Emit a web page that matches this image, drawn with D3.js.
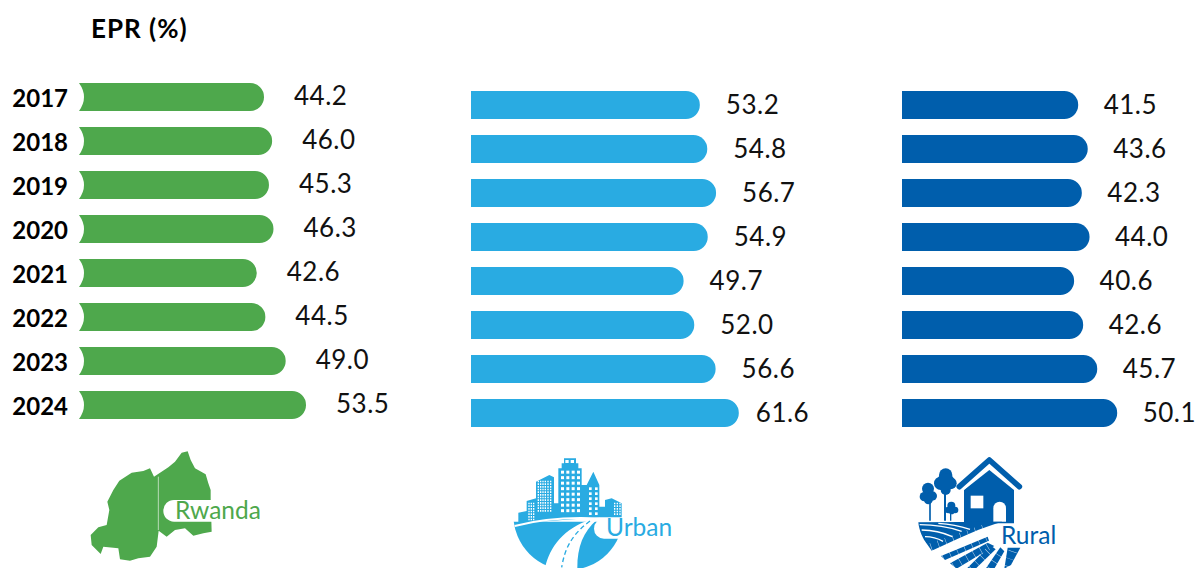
<!DOCTYPE html>
<html><head><meta charset="utf-8">
<script src="https://cdnjs.cloudflare.com/ajax/libs/d3/7.8.5/d3.min.js"></script>
<style>html,body{margin:0;padding:0;background:#fff}svg{display:block}text{font-family:Lato,"Open Sans",sans-serif}</style>
</head><body><div id="c"></div>
<script>
const years=["2017","2018","2019","2020","2021","2022","2023","2024"];
const rwanda=[44.2,46.0,45.3,46.3,42.6,44.5,49.0,53.5];
const urban=[53.2,54.8,56.7,54.9,49.7,52.0,56.6,61.6];
const rural=[41.5,43.6,42.3,44.0,40.6,42.6,45.7,50.1];
const panels=[
 {vals:rwanda,color:"#4ea84c",r0:64.4,slope:4.516,x0:79,top:75,off:30,dy:-1,notch:true},
 {vals:urban,color:"#29abe2",r0:453,slope:4.64,x0:471,top:83,off:26,dy:0},
 {vals:rural,color:"#005eac",r0:890,slope:4.535,x0:902,top:83,off:25.5,dy:0}
];
const W=1197,H=568;
const svg=d3.select("#c").append("svg").attr("width",W).attr("height",H);
svg.append("text").attr("x",91).attr("y",38).attr("font-size",26).attr("letter-spacing",1).attr("font-weight",700).text("EPR (%)");
panels.forEach((p,pi)=>{
 const x=d3.scaleLinear().domain([0,70]).range([p.r0,p.r0+70*p.slope]);
 const y=d3.scaleBand().domain(years).range([p.top,p.top+352]).paddingInner(16/44).paddingOuter(8/44);
 const h=y.bandwidth(),r=h/2;
 const g=svg.append("g");
 g.selectAll("path").data(p.vals).join("path").attr("fill",p.color).attr("d",(v,i)=>{
   const y0=y(years[i]),xe=x(v);
   return `M${p.x0},${y0}H${xe-r}A${r},${r} 0 0 1 ${xe-r},${y0+h}H${p.x0}`+(p.notch?`Q${p.x0+10},${y0+h/2} ${p.x0},${y0}Z`:"Z");
 });
 g.selectAll("text").data(p.vals).join("text").attr("font-size",26).attr("letter-spacing",0.5).attr("fill","#111")
  .attr("x",(v,i)=>x(v)+(pi==1&&i==7?17:p.off)).attr("y",(v,i)=>y(years[i])+h/2+p.dy).attr("dy","0.35em").text(v=>v.toFixed(1));
 if(pi==0){
  svg.append("g").selectAll("text").data(years).join("text").attr("font-size",24).attr("font-weight",700)
   .attr("text-anchor","end").attr("x",68).attr("y",d=>y(d)+h/2+1.5).attr("dy","0.35em").text(d=>d);
 }
});
// ---- icons (authored at 3x in local crop coordinates)
function icon(ox,oy){return svg.append("g").attr("transform",`translate(${ox},${oy}) scale(${1/3})`);}
// Rwanda
{const c="#4ea84c",g=icon(60,440);
 g.append("path").attr("fill",c).attr("d","M365,38L383,34L392,60L405,85L437,103L445,130L452,150L452,175L455,275L430,280L400,287L375,265L345,270L320,290L296,272L290,320L270,350L235,355L210,362L180,358L175,325L130,320L122,342L95,315L92,285L115,262L140,255L148,210L142,185L160,150L178,122L215,98L250,93L270,85L282,110L325,82L345,65Z");
 g.append("line").attr("x1",295).attr("x2",295).attr("y1",110).attr("y2",270).attr("stroke","#fff").attr("stroke-opacity",.6).attr("stroke-width",3);
 g.append("rect").attr("x",310).attr("y",180).attr("width",320).attr("height",65).attr("rx",32).attr("fill","#fff");
 svg.append("text").attr("x",175).attr("y",519).attr("font-size",24.5).attr("fill",c).text("Rwanda");
}
// Urban
{const c="#29abe2",g=icon(490,440);
 const poly=(d,f=c)=>g.append("path").attr("d",d).attr("fill",f);
 g.append("clipPath").attr("id","uc").append("rect").attr("x",0).attr("y",245).attr("width",600).attr("height",200);
 g.append("circle").attr("cx",235).attr("cy",225).attr("r",165).attr("fill",c).attr("clip-path","url(#uc)");
 poly("M85,218L110,213V183L138,175V125L178,105L192,112V190H205V85H215V70H222V55H258V70H265V85H275V135H290L310,95L328,135V200H345V180L365,175L395,190V232H330L85,250Z");
 const wins=(xs,ys,w,h)=>xs.forEach(a=>ys.forEach(b=>poly(`M${a},${b}h${w}v${h}h${-w}Z`,"#fff")));
 wins([226,242],[60],10,9);
 wins([213,229,245,261],d3.range(92,215,16.5),9,9);
 wins([297,315],d3.range(142,225,15),8,8);
 wins([143,150,157,164,172,180],d3.range(122,215,8),4,5);
 wins([115,122,129],d3.range(188,238,8),4,5);
 wins([372,380,388],d3.range(188,228,8),4,5);
 g.append("path").attr("d","M74,258Q190,228 330,236").attr("fill","none").attr("stroke","#fff").attr("stroke-width",6);
 poly("M305,238C220,265 180,320 165,384H262C262,320 280,275 320,240Z","#fff");
 g.append("path").attr("d","M300,243C250,280 225,320 215,382").attr("fill","none").attr("stroke",c).attr("stroke-width",4).attr("stroke-dasharray","14 9");
 g.append("rect").attr("x",312).attr("y",236).attr("width",300).attr("height",60).attr("rx",30).attr("fill","#fff");
 svg.append("text").attr("x",606).attr("y",536).attr("font-size",24.5).attr("fill",c).text("Urban");
}
// Rural
{const c="#005eac",g=icon(900,440);
 const poly=(d,f=c)=>g.append("path").attr("d",d).attr("fill",f);
 [[90,185,242,5],[135,150,242,6],[152,215,242,4]].forEach(([tx,a,b,w])=>g.append("line").attr("x1",tx).attr("x2",tx).attr("y1",a).attr("y2",b).attr("stroke",c).attr("stroke-width",w));
 [[84,146,18],[73,170,14],[97,168,14],[85,180,13],[137,105,20],[122,130,20],[152,130,18],[137,150,15],[137,125,26],[154,197,12],[145,210,10],[165,210,10],[155,215,8]]
  .forEach(([a,b,r])=>g.append("circle").attr("cx",a).attr("cy",b).attr("r",r).attr("fill",c));
 poly("M192,150L268,90L342,150V250H192Z");
 g.append("path").attr("d","M178,140L268,60L358,140").attr("fill","none").attr("stroke",c).attr("stroke-width",17).attr("stroke-linecap","round").attr("stroke-linejoin","round");
 g.append("path").attr("d","M188,150L268,82L348,150").attr("fill","none").attr("stroke","#fff").attr("stroke-width",4);
 poly("M212,167H250V205H212Z","#fff");
 poly("M280,245V205A19,20 0 0 1 318,205V245Z","#fff");
 // field, authored at 3x from (915,510)
 const f=svg.append("g").attr("transform","translate(915,510) scale(0.3333)");
 const fp=(d,fl=c)=>f.append("path").attr("d",d).attr("fill",fl);
 fp("M10,37L262,35C205,50 130,85 50,122L38,105C22,85 12,60 10,37Z");
 [["M14,44C60,44 105,52 140,64",3.5],["M20,60C55,60 90,70 112,80",4],["M30,80C50,80 70,86 84,94",4],["M70,40C105,42 135,48 165,58",4]]
  .forEach(([d,w])=>f.append("path").attr("d",d).attr("fill","none").attr("stroke","#fff").attr("stroke-width",w));
 fp("M78,138L218,80L222,92L90,150Z");
 fp("M105,160L125,176L238,108L218,98Z");
 fp("M155,176L182,176L242,118L226,106Z");
 fp("M212,176L238,176L268,124L256,112Z");
 fp("M268,176L288,165L316,113L278,113Z");
 // thin white cross-lines across the furrows
 ["M48,112L225,50","M84,144L220,86","M115,168L228,103","M168,176L234,112","M225,176L262,118","M278,170L297,113"]
  .forEach(d=>f.append("path").attr("d",d).attr("fill","none").attr("stroke","#fff").attr("stroke-opacity",.75).attr("stroke-width",26).attr("stroke-dasharray","1.5 22"));
 g.append("rect").attr("x",270).attr("y",255).attr("width",300).attr("height",66).attr("rx",30).attr("fill","#fff");
 svg.append("text").attr("x",1001).attr("y",544).attr("font-size",24.5).attr("fill",c).text("Rural");
}
</script></body></html>
